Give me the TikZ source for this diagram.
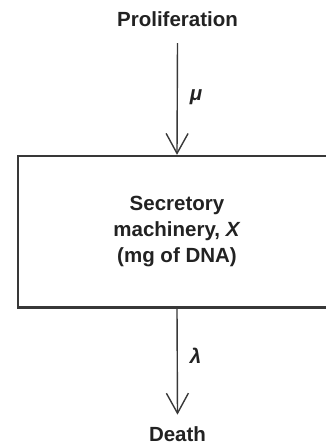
\documentclass[tikz,border=0pt]{standalone}
\usepackage{fontspec}
\setmainfont{Liberation Sans}
\usetikzlibrary{arrows.meta}
\definecolor{ink}{HTML}{222222}
\definecolor{edge}{HTML}{383838}
\begin{document}
\begin{tikzpicture}[x=1pt,y=-1pt,
  lbl/.style={font=\fontsize{20.5}{26}\selectfont\bfseries, text=ink, inner sep=0pt},
  rate/.style={font=\fontsize{20.5}{26}\selectfont\bfseries\itshape, text=ink, inner sep=0pt},
  flow/.style={draw=edge, line width=1.4pt, -{Straight Barb[length=20pt,width=22pt]}},
  compartment/.style={draw=edge, line width=2.3pt, minimum width=318pt, minimum height=151.5pt,
    inner sep=0pt, align=center, font=\fontsize{20.5}{26}\selectfont\bfseries, text=ink}]
  \useasboundingbox (0,0) rectangle (326,445);

  % source and sink labels
  \node[lbl, anchor=base, outer ysep=17pt] (prolif) at (177.5,26) {Proliferation};
  \node[lbl, anchor=base, outer ysep=12pt] (death) at (177.5,441.5) {Death};

  % the compartment (open on the right)
  \node[compartment] (box) at (177,231.75)
    {Secretory\\machinery, \textit{X}\\(mg of DNA)};

  % flows in and out
  \draw[flow] (prolif.south) -- (box.north);
  \draw[flow] (box.south) -- (death.north);

  % rate labels
  \node[rate] (mu) at (196,97) {μ};
  \node[rate] (lambda) at (195.5,356) {λ};
\end{tikzpicture}
\end{document}
